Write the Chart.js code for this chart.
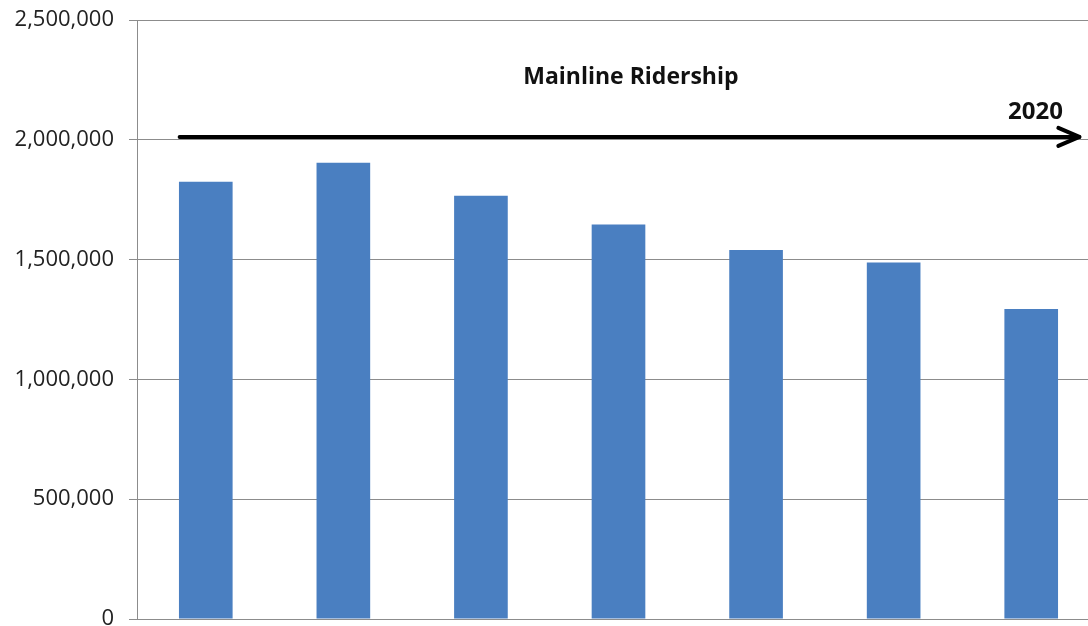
<!DOCTYPE html>
<html>
<head>
<meta charset="utf-8">
<script src="https://cdn.jsdelivr.net/npm/chart.js@4/dist/chart.umd.min.js"></script>
<style>
  html, body { margin: 0; padding: 0; background: #fff; overflow: hidden; }
  #wrap { width: 1100px; height: 626px; }
</style>
</head>
<body>
<div id="wrap"><canvas id="ridership-chart"></canvas></div>
<script>
// Datos del gráfico
const categories = ['2014', '2015', '2016', '2017', '2018', '2019', '2020'];
const ridership = [1825000, 1904000, 1766000, 1647000, 1540000, 1488000, 1294000];
const yTicks = [0, 500000, 1000000, 1500000, 2000000, 2500000];
const chartTitle = 'Mainline Ridership';
const arrowLabel = '2020';

// Flecha y textos dentro del área del gráfico
const overlay = {
  arrowValue: 2012000,
  arrowFrom: -0.19,
  arrowTo: 6.35
};

const overlayPlugin = {
  id: 'overlay',
  afterDatasetsDraw(chart) {
    const { ctx, scales: { x, y } } = chart;
    const yPx = y.getPixelForValue(overlay.arrowValue);
    const x0 = x.getPixelForValue(overlay.arrowFrom);
    const x1 = x.getPixelForValue(overlay.arrowTo);
    ctx.save();
    ctx.strokeStyle = '#000';
    ctx.lineWidth = 4;
    ctx.lineCap = 'round';
    ctx.lineJoin = 'round';
    ctx.beginPath();
    ctx.moveTo(x0, yPx);
    ctx.lineTo(x1, yPx);
    ctx.stroke();
    // punta de flecha
    ctx.beginPath();
    ctx.moveTo(x1 - 21, yPx - 9);
    ctx.lineTo(x1, yPx);
    ctx.lineTo(x1 - 21, yPx + 9);
    ctx.stroke();

    ctx.fillStyle = '#111';
    ctx.textBaseline = 'middle';
    ctx.font = 'bold 23px "Open Sans", sans-serif';
    ctx.textAlign = 'center';
    ctx.fillText(chartTitle, x.getPixelForValue(3.09), y.getPixelForValue(2262000));
    ctx.font = 'bold 24px "Open Sans", sans-serif';
    ctx.textAlign = 'right';
    ctx.fillText(arrowLabel, x.getPixelForValue(6.23), y.getPixelForValue(2116000));
    ctx.restore();
  }
};

const ctx = document.getElementById('ridership-chart').getContext('2d');
const chart = new Chart(ctx, {
  type: 'bar',
  data: {
    labels: categories,
    datasets: [{
      label: chartTitle,
      data: ridership,
      backgroundColor: '#4a7fc1',
      borderWidth: 0,
      barPercentage: 0.39,
      categoryPercentage: 1
    }]
  },
  options: {
    responsive: true,
    maintainAspectRatio: false,
    animation: false,
    layout: { autoPadding: false, padding: { top: 20, bottom: 7, left: 0, right: 0 } },
    plugins: {
      legend: { display: false },
      tooltip: { enabled: false }
    },
    scales: {
      x: {
        afterFit: (scale) => { scale.height = 0; },
        ticks: { display: false },
        grid: { display: false, drawTicks: false },
        border: { display: true, color: '#8c8c8c', width: 1 }
      },
      y: {
        min: 0,
        max: 2500000,
        afterBuildTicks: (scale) => { scale.ticks = yTicks.map(v => ({ value: v })); },
        afterFit: (scale) => {
          scale.width = 137;
          // sin relleno extra por las etiquetas (el "0" queda cortado abajo)
          scale.paddingTop = 0;
          scale.paddingBottom = 0;
        },
        ticks: {
          color: '#222',
          padding: 15,
          font: { family: '"Open Sans", sans-serif', size: 22 },
          callback: (v) => v.toLocaleString('en-US')
        },
        grid: { color: '#8c8c8c', lineWidth: 1, tickLength: 8, drawTicks: true },
        border: { display: true, color: '#8c8c8c', width: 1 }
      }
    }
  },
  plugins: [overlayPlugin]
});
</script>
</body>
</html>
